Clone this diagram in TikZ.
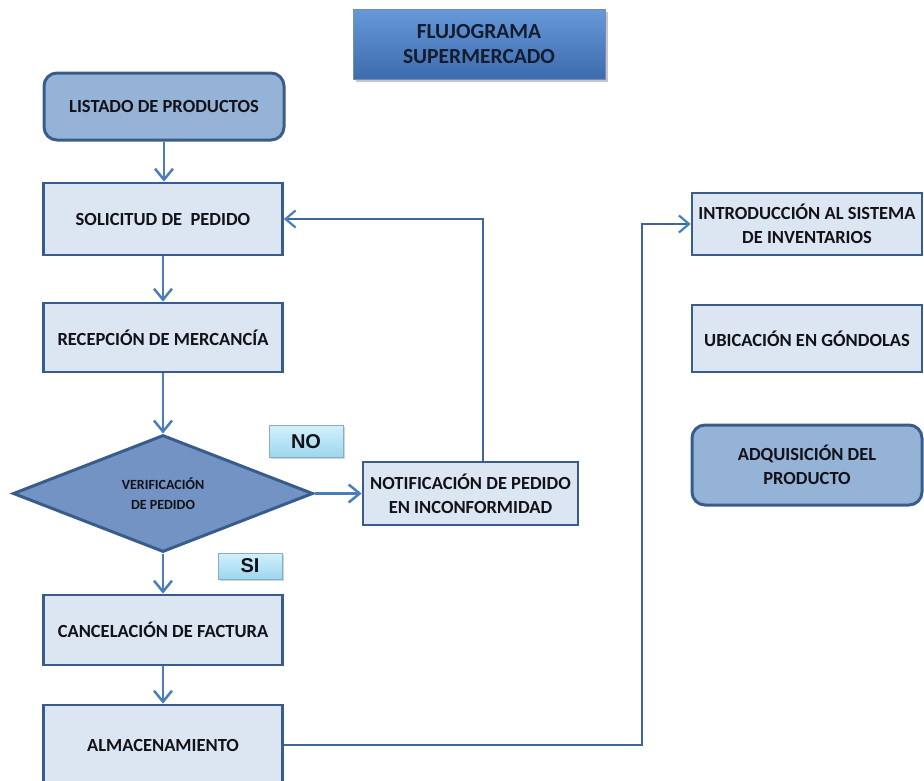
\documentclass[tikz,border=0pt]{standalone}
\usepackage{fontspec}
\setmainfont{Carlito}
\newfontfamily\tagfont{Liberation Sans}
\usetikzlibrary{arrows.meta,shapes.geometric,shadows}

\definecolor{edge}{HTML}{385D8A}
\definecolor{pale}{HTML}{DCE6F2}
\definecolor{midblue}{HTML}{95B3D7}
\definecolor{deepfill}{HTML}{7393C4}
\definecolor{flowblue}{HTML}{4A7EBB}
\definecolor{linkblue}{HTML}{3F6699}
\definecolor{ink}{HTML}{121218}
\definecolor{titleink}{HTML}{141C2E}
\definecolor{tagtop}{HTML}{D2F0FB}
\definecolor{tagbot}{HTML}{9CD6EE}
\definecolor{tagedge}{HTML}{86AFC4}
\definecolor{headtop}{HTML}{6698DA}
\definecolor{headbot}{HTML}{3D6CAE}

\tikzset{
  txt/.style={font=\bfseries\fontsize{18.5}{24}\selectfont, text=ink, align=center, inner sep=0pt},
  procbox/.style={txt, rectangle, draw=edge, fill=pale, line width=2.7pt, minimum width=239pt},
  roundbox/.style={txt, rectangle, rounded corners=13pt, draw=edge, fill=midblue, line width=3pt, minimum width=240pt},
  decision/.style={diamond, draw=edge, fill=deepfill, line width=3pt, inner sep=0pt,
    minimum width=300pt, minimum height=117pt, shape aspect=2.56,
    font=\bfseries\fontsize{14}{20}\selectfont, text=ink, align=center},
  tag/.style={rectangle, draw=tagedge, line width=1pt, top color=tagtop, bottom color=tagbot,
    inner sep=0pt, text=ink, font=\tagfont\bfseries\fontsize{20}{22}\selectfont,
    drop shadow={shadow xshift=1.5pt, shadow yshift=-1.5pt, opacity=.35}},
  headbox/.style={rectangle, draw=edge!70, line width=1pt, top color=headtop, bottom color=headbot,
    minimum width=252pt, minimum height=70pt, align=center, text=titleink,
    font=\bfseries\fontsize{21.5}{25}\selectfont,
    drop shadow={shadow xshift=3pt, shadow yshift=-3pt, opacity=.45}},
  flow/.style={draw=flowblue, line width=2.5pt, -{Straight Barb[length=11pt,width=18pt]}},
  link/.style={draw=linkblue, line width=2.2pt, -{Straight Barb[length=10pt,width=17pt,color=flowblue]}}
}

\begin{document}
\begin{tikzpicture}[x=1pt,y=-1pt]
\useasboundingbox (0,0) rectangle (924,780);
\clip (0,0) rectangle (924,780);

% title
\node[headbox] (title) at (479,44) {FLUJOGRAMA\\SUPERMERCADO};

% left column
\node[roundbox, minimum height=67pt] (listado) at (164,106.5) {LISTADO DE PRODUCTOS};
\node[procbox, minimum height=72pt] (solicitud) at (163,219) {SOLICITUD DE\ \ PEDIDO};
\node[procbox, minimum height=69pt] (recepcion) at (163,337.5) {RECEPCIÓN DE MERCANCÍA};
\node[decision] (verif) at (163,493.5) {VERIFICACIÓN\\DE PEDIDO};
\node[procbox, minimum width=215pt, minimum height=63pt] (notif) at (470.5,493.5) {NOTIFICACIÓN DE PEDIDO\\EN INCONFORMIDAD};
\node[tag, minimum width=74pt, minimum height=32pt] (no) at (306,441.5) {NO};
\node[tag, minimum width=64pt, minimum height=26pt] (si) at (250,566) {SI};
\node[procbox, minimum height=70pt] (cancel) at (163,630) {CANCELACIÓN DE FACTURA};
\node[procbox, minimum height=80pt] (almac) at (163,745) {ALMACENAMIENTO};

% right column
\node[procbox, minimum width=230pt, minimum height=62pt] (intro) at (807,224) {INTRODUCCIÓN AL SISTEMA\\DE INVENTARIOS};
\node[procbox, minimum width=230pt, minimum height=67pt] (ubic) at (807,338.5) {UBICACIÓN EN GÓNDOLAS};
\node[roundbox, minimum width=230pt, minimum height=80pt] (adq) at (807,465) {ADQUISICIÓN DEL\\PRODUCTO};

% main sequence
\draw[flow] (listado.south) -- (listado.south |- solicitud.north);
\draw[flow] (solicitud.south) -- (recepcion.north);
\draw[flow] (recepcion.south) -- (verif.north);
\draw[flow] (verif.east) -- (notif.west);
\draw[flow] (verif.south) -- (cancel.north);
\draw[flow] (cancel.south) -- (almac.north);

% return and forward links
\coordinate (fb) at (483,0);
\coordinate (rise) at (642,0);
\draw[link] (notif.north -| fb) |- (solicitud.east);
\draw[link] (almac.east) -- (almac.east -| rise) -- (rise |- intro.west) -- (intro.west);
\end{tikzpicture}
\end{document}
